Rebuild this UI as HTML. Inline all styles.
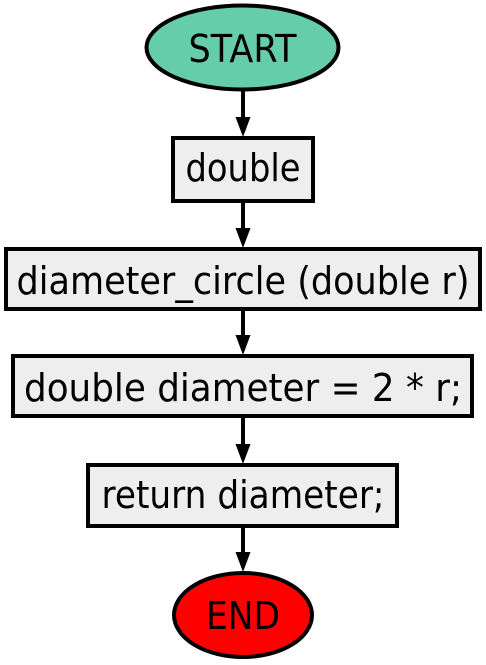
<!DOCTYPE html>
<html><head><meta charset="utf-8"><style>html,body{margin:0;padding:0;background:#fff}svg{display:block}</style></head>
<body>
<svg width="486" height="665" viewBox="0 0 486 665" font-family="'DejaVu Sans','Liberation Sans',sans-serif" font-size="38">
<g stroke="#000" stroke-width="4" fill="none">
<line x1="243" y1="91" x2="243" y2="120"/>
<line x1="243" y1="202" x2="243" y2="231"/>
<line x1="243" y1="310" x2="243" y2="338"/>
<line x1="243" y1="417" x2="243" y2="447"/>
<line x1="243" y1="527" x2="243" y2="555"/>
</g>
<g fill="#000">
<polygon points="235.5,117 250.5,117 243,137"/>
<polygon points="235.5,228 250.5,228 243,248"/>
<polygon points="235.5,335 250.5,335 243,355"/>
<polygon points="235.5,444 250.5,444 243,464"/>
<polygon points="235.5,552 250.5,552 243,572"/>
</g>
<g>
<ellipse cx="242.5" cy="47.5" rx="96" ry="42" fill="#66cdaa" stroke="#000" stroke-width="4"/>
<text x="242.5" y="62" text-anchor="middle" textLength="108" lengthAdjust="spacingAndGlyphs">START</text>
</g>
<g>
<rect x="173" y="138" width="140" height="63" fill="#eeeeee" stroke="#000" stroke-width="4"/>
<text x="243" y="181" text-anchor="middle" textLength="115" lengthAdjust="spacingAndGlyphs">double</text>
</g>
<g>
<rect x="6" y="249" width="474" height="60" fill="#eeeeee" stroke="#000" stroke-width="4"/>
<text x="243" y="294" text-anchor="middle" textLength="453" lengthAdjust="spacingAndGlyphs">diameter_circle (double r)</text>
</g>
<g>
<rect x="13" y="356" width="459" height="60" fill="#eeeeee" stroke="#000" stroke-width="4"/>
<text x="243" y="401" text-anchor="middle" textLength="438" lengthAdjust="spacingAndGlyphs">double diameter = 2 * r;</text>
</g>
<g>
<rect x="88" y="465" width="309" height="61" fill="#eeeeee" stroke="#000" stroke-width="4"/>
<text x="243" y="508" text-anchor="middle" textLength="283" lengthAdjust="spacingAndGlyphs">return diameter;</text>
</g>
<g>
<ellipse cx="243" cy="615" rx="69" ry="42" fill="#ff0000" stroke="#000" stroke-width="4"/>
<text x="243" y="629" text-anchor="middle" textLength="74" lengthAdjust="spacingAndGlyphs">END</text>
</g>
</svg>
</body></html>
